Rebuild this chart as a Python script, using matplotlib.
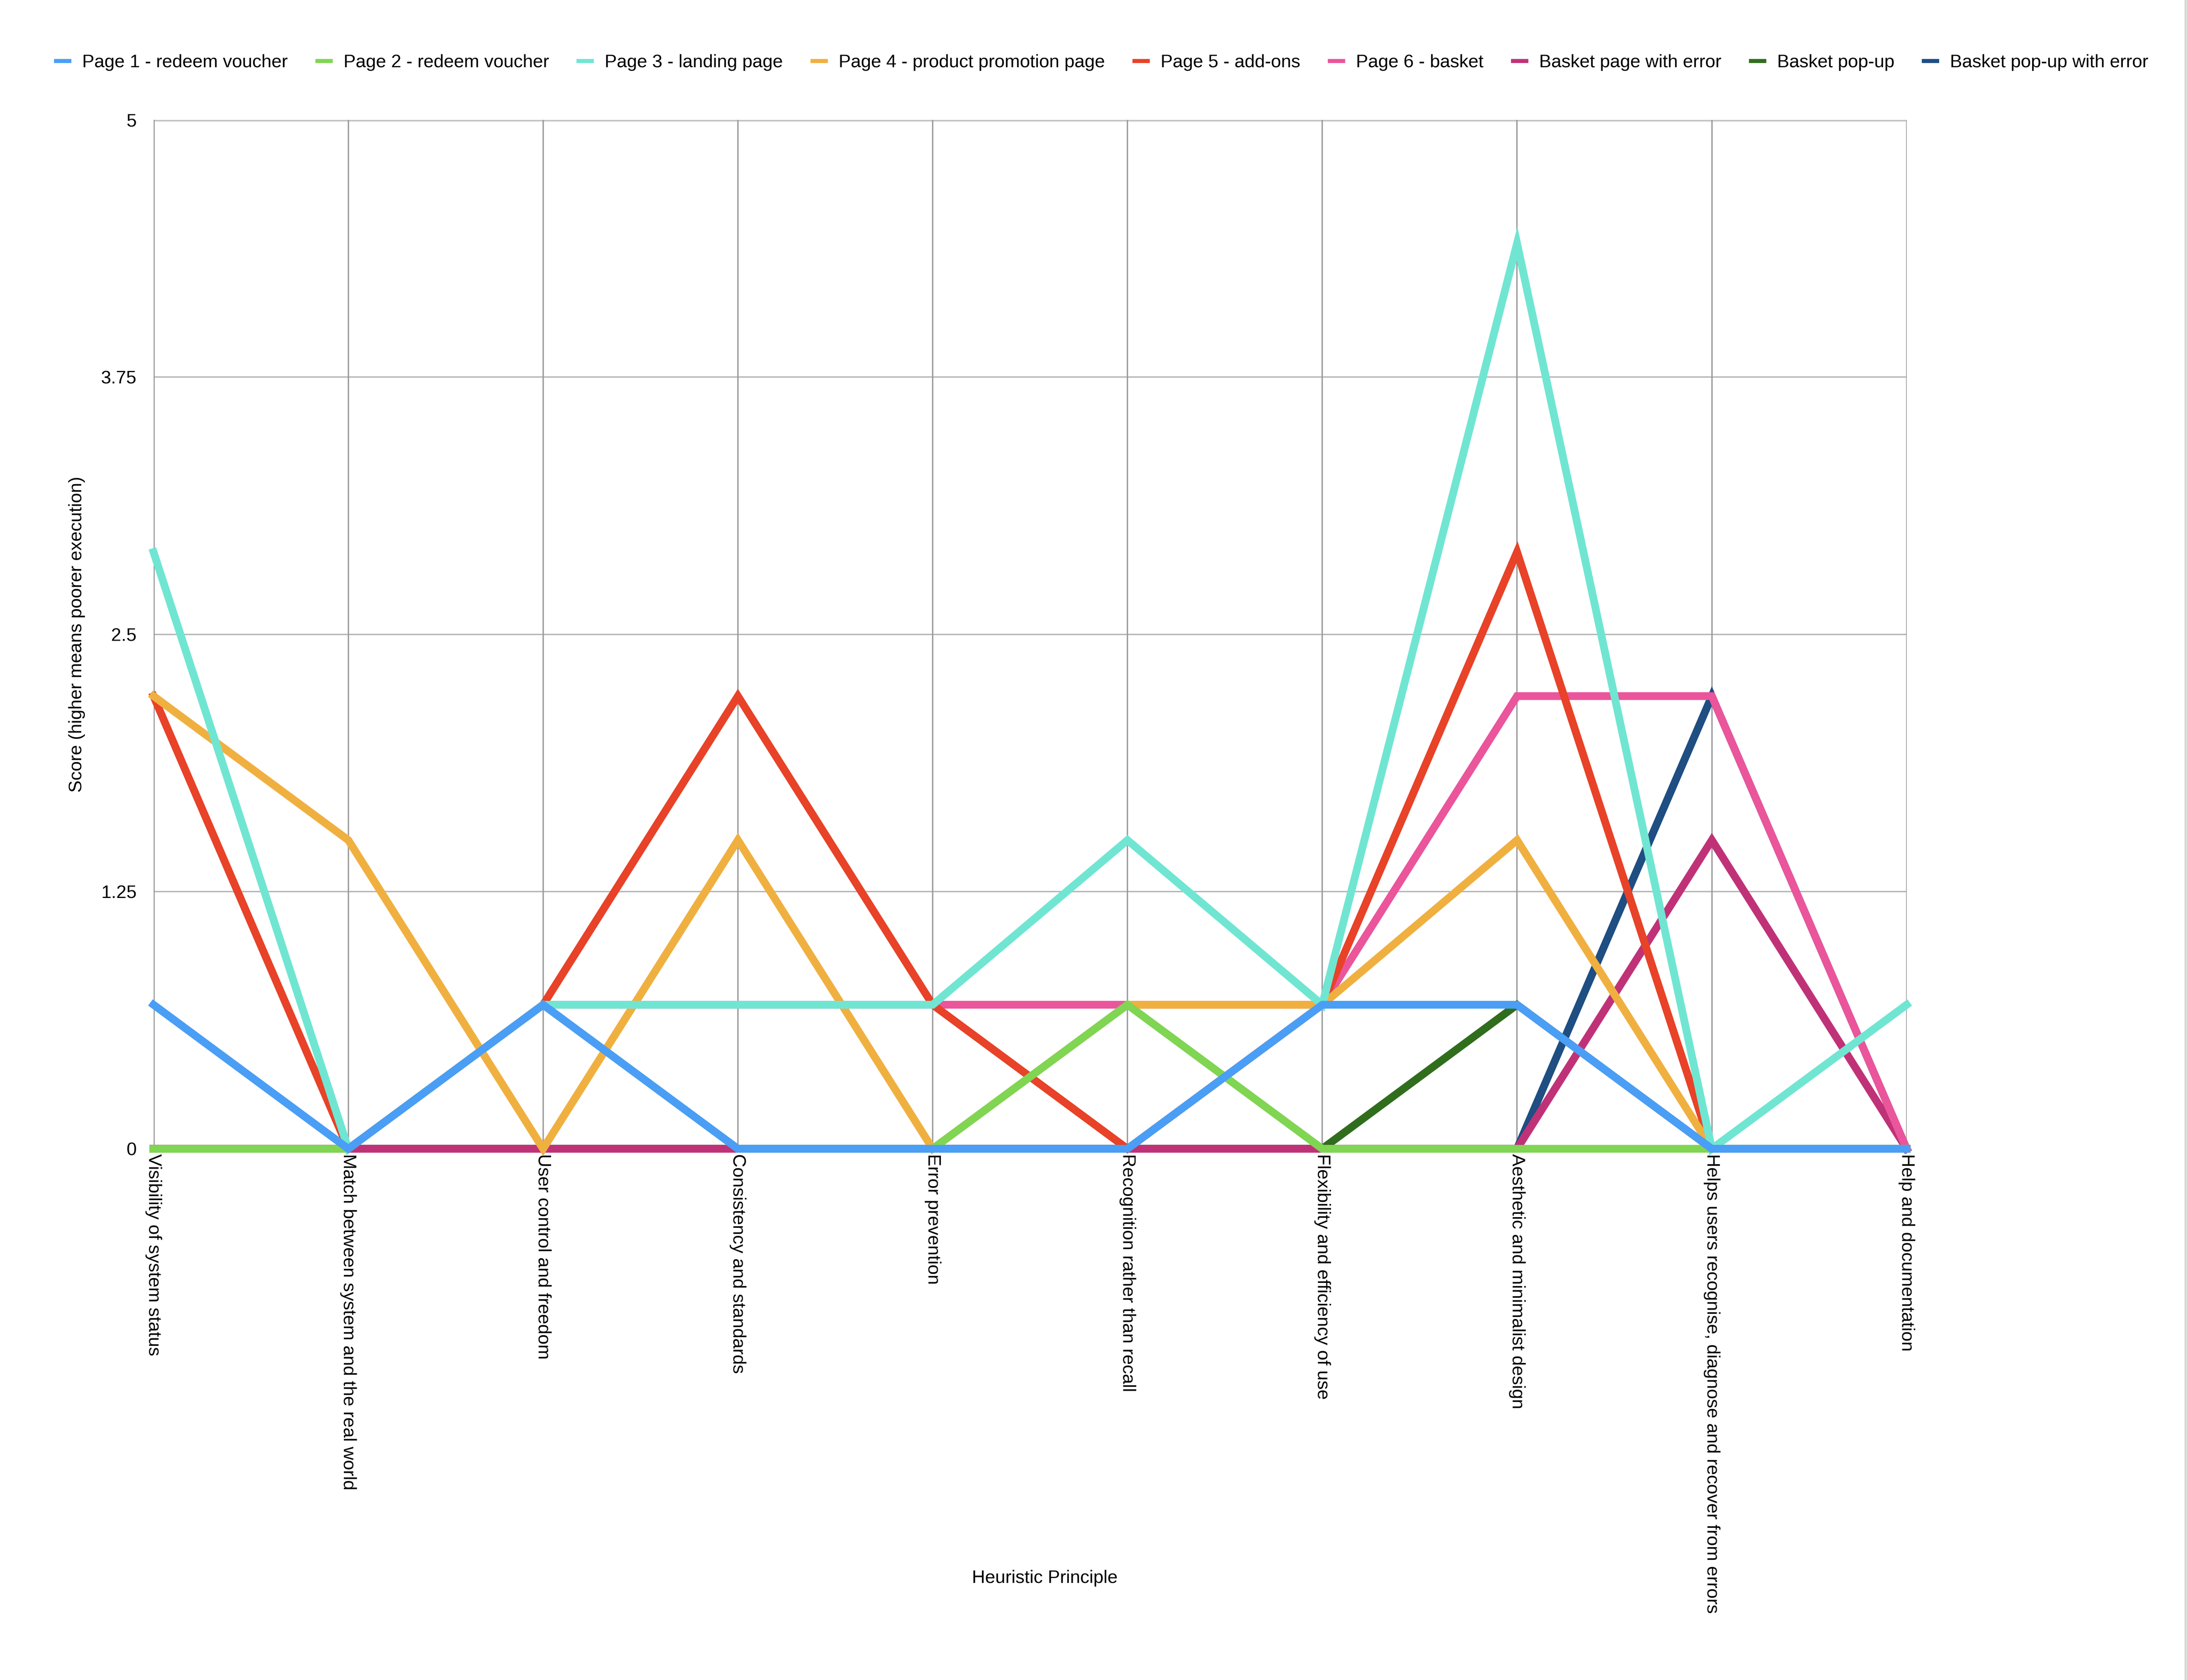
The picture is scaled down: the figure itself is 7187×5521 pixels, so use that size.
import matplotlib
matplotlib.use("Agg")
import matplotlib.pyplot as plt
from matplotlib.lines import Line2D

plt.rcParams['font.family'] = ['Liberation Sans', 'DejaVu Sans']

# heuristic principles (x categories)
principles = [
    "Visibility of system status",
    "Match between system and the real world",
    "User control and freedom",
    "Consistency and standards",
    "Error prevention",
    "Recognition rather than recall",
    "Flexibility and efficiency of use",
    "Aesthetic and minimalist design",
    "Helps users recognise, diagnose and recover from errors",
    "Help and documentation",
]

series_names = [
    "Page 1 - redeem voucher",
    "Page 2 - redeem voucher",
    "Page 3 - landing page",
    "Page 4 - product promotion page",
    "Page 5 - add-ons",
    "Page 6 - basket",
    "Basket page with error",
    "Basket pop-up",
    "Basket pop-up with error",
]

page1 = [0.7, 0, 0.7, 0, 0, 0, 0.7, 0.7, 0, 0]
page2 = [0, 0, 0.7, 0, 0, 0.7, 0, 0, 0, 0]
page3 = [2.9, 0, 0.7, 0.7, 0.7, 1.5, 0.7, 4.4, 0, 0.7]
page4 = [2.2, 1.5, 0, 1.5, 0, 0.7, 0.7, 1.5, 0, 0]
page5 = [2.2, 0, 0.7, 2.2, 0.7, 0, 0.7, 2.9, 0, 0]
page6 = [0, 0, 0.7, 0.7, 0.7, 0.7, 0.7, 2.2, 2.2, 0]
basket_error = [0, 0, 0, 0, 0, 0, 0, 0, 1.5, 0]
basket_popup = [0, 0, 0, 0, 0, 0, 0, 0.7, 0, 0]
popup_error = [0, 0, 0, 0, 0, 0, 0, 0, 2.2, 0]

all_series = [page1, page2, page3, page4, page5, page6,
              basket_error, basket_popup, popup_error]

colors = ["#4a9ef5", "#80d553", "#70e6d2", "#f0b040", "#e84228",
          "#ea559b", "#c03278", "#306e1e", "#1e4e82"]

yticks = [0, 1.25, 2.5, 3.75, 5]
ytick_labels = ["0", "1.25", "2.5", "3.75", "5"]

fs = 10.8

fig = plt.figure(figsize=(7187 / 400, 5521 / 400), dpi=400)
ax = fig.add_axes([0.0702, 0.3162, 0.8016, 0.6124])

xs = list(range(len(principles)))

# first series ends up on top, like in the original
n = len(all_series)
for i in range(n):
    ax.plot(xs, all_series[i], color=colors[i], lw=4.6,
            solid_joinstyle='miter', zorder=10 + n - i, clip_on=False)

ax.set_xlim(0, len(principles) - 1)
ax.set_ylim(0, 5)

ax.set_yticks(yticks)
ax.set_yticklabels(ytick_labels, fontsize=fs)
ax.set_xticks(xs)
ax.set_xticklabels(principles, rotation=-90, fontsize=fs, ha='center', va='top')
ax.tick_params(axis='both', length=0)
ax.tick_params(axis='y', pad=10)
ax.tick_params(axis='x', pad=3)

for s in ax.spines.values():
    s.set_visible(False)

for y in yticks[1:-1]:
    ax.axhline(y, color='#b4b4b4', lw=0.8, zorder=1)
ax.axhline(5, color='#c4c4c4', lw=1.7, zorder=1)
for x in xs:
    ax.axvline(x, color='#9a9a9a', lw=0.8, zorder=1)
ax.axvline(0, color='#8c8c8c', lw=1.1, zorder=1)

fig.text(0.4777, 0.0606, "Heuristic Principle", fontsize=fs, ha='center', va='center')
fig.text(0.0351, 0.6224, "Score (higher means poorer execution)", fontsize=fs,
         rotation=90, ha='center', va='center')

handles = [Line2D([], [], color=c, lw=2.4, solid_capstyle='butt') for c in colors]
fig.legend(handles, series_names, loc='center', bbox_to_anchor=(0.5035, 0.9627),
           ncol=9, frameon=False, fontsize=fs, handlelength=0.95,
           handletextpad=0.6, columnspacing=1.5)

# faint border on the right edge of the picture
fig.add_artist(Line2D([0.9993, 0.9993], [0, 1], color='#d4d4d4', lw=1.2,
                      transform=fig.transFigure))

fig.savefig("out.png", dpi=400, facecolor='white')
